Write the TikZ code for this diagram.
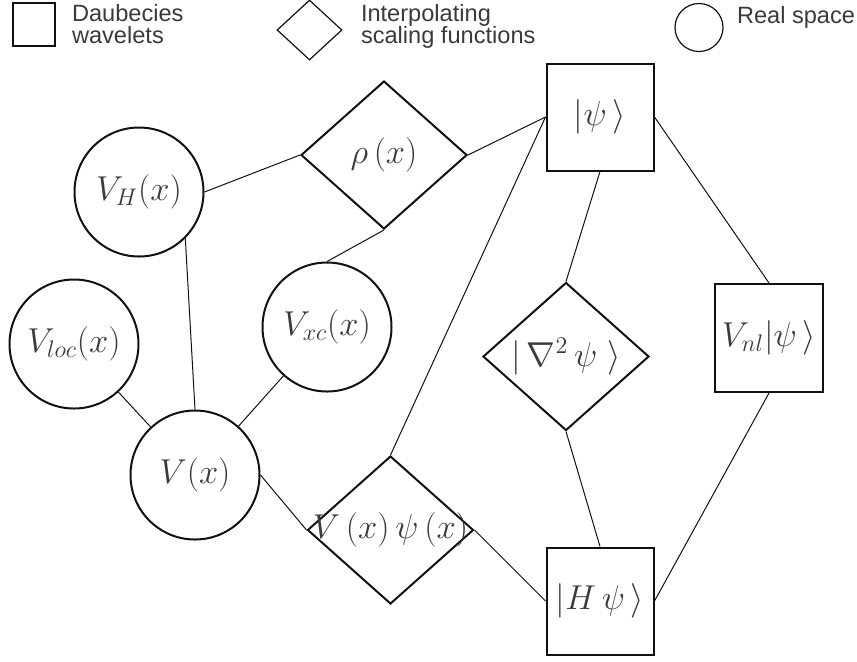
\documentclass[tikz,border=0pt]{standalone}
\usepackage{fontspec}
\newfontfamily\lgfont{Liberation Sans}
\usepackage{tikz}
\usetikzlibrary{shapes,shapes.geometric,positioning}
\usepackage{amsmath,amssymb}
\usepackage{xcolor}
\definecolor{dgInk}{HTML}{111111}
\definecolor{dgText}{HTML}{3A3A3A}
\newcommand\dgmath{\fontsize{17}{20}\selectfont}
\newcommand\dglgd{\lgfont\fontsize{11.8}{11}\selectfont}
\tikzset{
  wav/.style={draw=dgInk, line width=1pt, rectangle, minimum size=53.5pt, inner sep=2pt, font=\dgmath, text=dgText},
  isf/.style={draw=dgInk, line width=1pt, diamond, minimum width=83pt, minimum height=74pt, inner sep=0pt},
  rsp/.style={draw=dgInk, line width=1pt, circle, minimum size=64.5pt, inner sep=0pt, font=\dgmath, text=dgText},
  mtxt/.style={font=\dgmath, text=dgText, inner sep=0pt},
  lnk/.style={draw=dgInk, line width=0.5pt},
  lgsym/.style={draw=dgInk, line width=0.6pt, inner sep=0pt},
  lgtxt/.style={font=\dglgd, text=dgText, align=left, inner sep=0pt},
}
\begin{document}
\begin{tikzpicture}[x=0.5pt, y=-0.5pt]
            \useasboundingbox (0,0) rectangle (857,661);
            % legend
            \node[lgsym, rectangle, minimum width=21pt, minimum height=21.5pt] (lgwav) at (34,24.5) {};
            \node[lgtxt, right=8pt of lgwav] (lgwavt) {Daubecies\\wavelets};
            \node[lgsym, diamond, minimum width=32.5pt, minimum height=30pt] (lgisf) at (309.5,30) {};
            \node[lgtxt, right=9pt of lgisf, yshift=2pt] (lgisft) {Interpolating\\scaling functions};
            \node[lgsym, circle, minimum size=24pt] (lgrsp) at (699,27.5) {};
            \node[lgtxt, right=6.5pt of lgrsp, yshift=5pt] (lgrspt) {Real space};
            % real space
            \node[rsp] (vh) at (139,192) {$V_{H}(x)$};
            \node[rsp] (vxc) at (327,327) {$V_{xc}(x)$};
            \node[rsp] (vloc) at (74,344) {$V_{loc}(x)$};
            \node[rsp] (vv) at (195,475) {$V(x)$};
            % interpolating scaling functions
            \node[isf, label={[mtxt]center:$\rho\,(x)$}] (rho) at (384,155) {};
            \node[isf, label={[mtxt]center:$|\,\nabla^{2}\,\psi\;\rangle$}] (lap) at (566,356.5) {};
            \node[isf, label={[mtxt]center:$V\,(x)\,\psi\,(x)$}] (vpsi) at (390.5,530) {};
            % wavelets
            \node[wav] (psi) at (600,117) {$|\psi\,\rangle$};
            \node[wav] (hpsi) at (600,601) {$|H\,\psi\,\rangle$};
            \node[wav, minimum size=54pt] (vnl) at (769,338) {$V_{nl}|\psi\,\rangle$};
            \foreach \u/\v in {vh.east/rho.west, rho.east/psi.west, vxc.north/rho.south, vh.-45/vv.north,
              vloc/vv, vxc/vv, vv.east/vpsi.west, vpsi.north/psi.west, vpsi.east/hpsi.west,
              psi.south/lap.north, lap.south/hpsi.north, psi.east/vnl.north, vnl.south/hpsi.east}
              \draw[lnk] (\u) -- (\v);
        \end{tikzpicture}
\end{document}
